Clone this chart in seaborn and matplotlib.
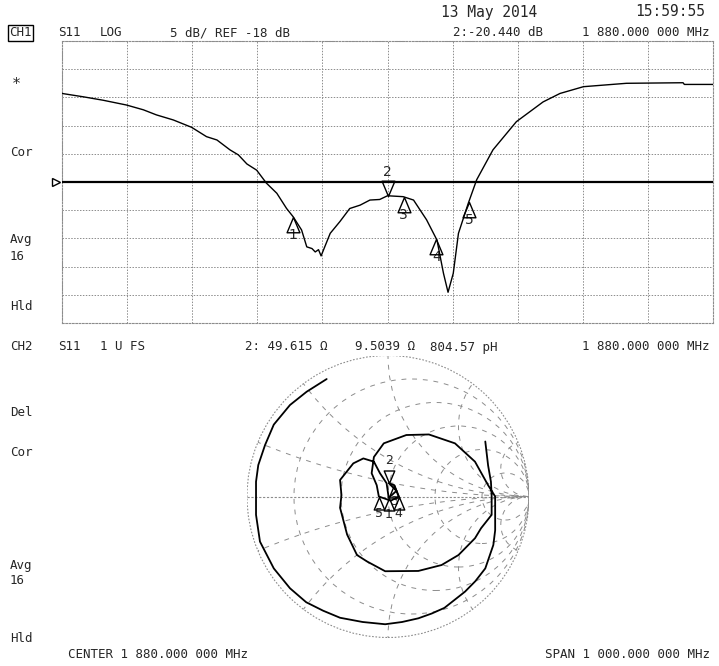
import numpy as np
import pandas as pd
import matplotlib
matplotlib.use("Agg")
import matplotlib.pyplot as plt
from matplotlib.path import Path
from matplotlib.patches import Circle
import seaborn as sns

# CH1: S11 log magnitude (MHz, dB)
freq_mhz = [1380, 1413, 1443, 1479, 1505, 1525, 1551, 1579, 1602, 1618, 1638, 1651,
            1664, 1679, 1694, 1710, 1725, 1735, 1748, 1756, 1764, 1769, 1774, 1778,
            1792, 1807, 1822, 1838, 1853, 1868, 1880, 1904, 1920, 1940, 1956, 1966,
            1973, 1981, 1989, 2004, 2017, 2042, 2078, 2119, 2145, 2181, 2247, 2334,
            2336, 2380]
s11_db = [-2.3, -2.9, -3.5, -4.35, -5.2, -6.1, -7.0, -8.3, -9.96, -10.55, -12.3, -13.2,
          -14.8, -15.9, -18.2, -20.0, -22.7, -24.15, -26.5, -29.5, -29.8, -30.4, -30.0,
          -31.1, -27.1, -25.0, -22.7, -22.1, -21.2, -21.1, -20.44, -20.6, -21.2, -24.7,
          -28.3, -34.2, -37.55, -34.2, -27.1, -21.8, -17.6, -12.3, -7.3, -3.8, -2.3,
          -1.1, -0.5, -0.4, -0.7, -0.7]
marker_ids = [1, 2, 3, 4, 5]
marker_freq = [1735, 1880, 1905, 1955, 2005]
ref_db = -18
db_per_div = 5

# CH2: S11 on the Smith chart (real, imag of reflection coefficient)
smith_re = [0.69, 0.71, 0.73, 0.735, 0.735, 0.66, 0.617, 0.5, 0.38, 0.215, -0.02, -0.15,
            -0.22, -0.29, -0.34, -0.33, -0.34, -0.246, -0.175, -0.1, -0.057, -0.01,
            0.005, 0.06, 0.005, 0.045, 0.075, 0.02, -0.065, -0.08,
            -0.116, -0.1, -0.03, 0.13, 0.29, 0.475, 0.617, 0.71, 0.76, 0.76, 0.747,
            0.69, 0.62, 0.546, 0.40, 0.31, 0.215, 0.1, -0.02, -0.18, -0.34, -0.46, -0.58,
            -0.695, -0.81, -0.908, -0.936, -0.936, -0.92, -0.872, -0.81, -0.695,
            -0.577, -0.435]
smith_im = [0.39, 0.22, 0.105, 0.01, -0.13, -0.225, -0.296, -0.415, -0.486, -0.528, -0.53,
            -0.46, -0.415, -0.27, -0.08, 0.01, 0.117, 0.235, 0.27, 0.247, 0.165, 0.094,
            -0.01, 0.04, 0.095, 0.08, 0.0, -0.03, 0.0, 0.08,
            0.165, 0.28, 0.377, 0.436, 0.44, 0.377, 0.247, 0.08, 0.0, -0.24, -0.344,
            -0.51, -0.6, -0.675, -0.79, -0.83, -0.864, -0.89, -0.906, -0.89, -0.86, -0.81,
            -0.75, -0.651, -0.51, -0.32, -0.13, 0.105, 0.223, 0.365, 0.51, 0.649,
            0.743, 0.833]
smith_marker_idx = [22, 24, 25, 26, 28]
smith_r = [0.2, 0.5, 1, 2, 5]
smith_x = [0.2, 0.5, 1, 2, 5]

W, H = 719, 666
sns.set_style("white")
plt.rcParams['font.family'] = ['DejaVu Sans Mono', 'DejaVu Sans']
fig = plt.figure(figsize=(W / 100, H / 100), dpi=100)


def fx(x):
    return x / W


def fy(y):
    return 1 - y / H


def txt(x, y, s, **kw):
    kw.setdefault('fontsize', 9)
    kw.setdefault('va', 'center')
    fig.text(fx(x), fy(y), s, **kw)


# marker shapes with the tip at the data point
up_tri = Path([(0, 0), (-0.42, -1), (0.42, -1), (0, 0)], [1, 2, 2, 79])
down_tri = Path([(0, 0), (-0.42, 1), (0.42, 1), (0, 0)], [1, 2, 2, 79])
grid_col = '#8c8c8c'


def draw_marker(a, x, y, mid, ms, fs, up_off, down_off):
    if mid == 2:
        a.plot([x], [y], marker=down_tri, ms=ms, mfc='none', mec='black', mew=1.0, zorder=6)
        a.annotate(str(mid), (x, y), xytext=(0, down_off), textcoords='offset points',
                   ha='center', va='center', fontsize=fs, family='DejaVu Sans')
    else:
        a.plot([x], [y], marker=up_tri, ms=ms, mfc='none', mec='black', mew=1.0, zorder=6)
        a.annotate(str(mid), (x, y), xytext=(0, up_off), textcoords='offset points',
                   ha='center', va='center', fontsize=fs, family='DejaVu Sans')


# ---- CH1 log magnitude ----
ax = fig.add_axes([fx(62), fy(323), 651 / W, 282 / H])
f0, f1 = freq_mhz[0], freq_mhz[-1]
top = ref_db + 5 * db_per_div
bot = ref_db - 5 * db_per_div
ax.set_xlim(f0, f1)
ax.set_ylim(bot, top)
ax.set_xticks(np.linspace(f0, f1, 11))
ax.set_yticks(np.linspace(bot, top, 11))
ax.set_xticklabels([])
ax.set_yticklabels([])
ax.tick_params(length=0)
ax.grid(True, color=grid_col, lw=0.7, ls=(0, (1.5, 1.5)))
for sp in ax.spines.values():
    sp.set_color(grid_col)
    sp.set_linestyle((0, (1.5, 1.5)))
    sp.set_linewidth(0.8)
ax.axhline(ref_db, color='black', lw=1.6, zorder=3)
df = pd.DataFrame({'freq': freq_mhz, 'db': s11_db})
sns.lineplot(data=df, x='freq', y='db', color='black', lw=1.0, ax=ax, zorder=4)
ax.set_xlabel('')
ax.set_ylabel('')
ax.plot([f0 - (f1 - f0) * 0.009], [ref_db], marker='>', ms=6, mfc='white', mec='black',
        mew=1, clip_on=False, zorder=5)
for mid, mf in zip(marker_ids, marker_freq):
    md = np.interp(mf, freq_mhz, s11_db)
    draw_marker(ax, mf, md, mid, 22, 10, -13, 17)

# ---- CH2 Smith chart ----
cx, cy, R = 388, 496.5, 141
ax2 = fig.add_axes([fx(cx - R), fy(cy + R), 2 * R / W, 2 * R / H])
ax2.set_xlim(-1, 1)
ax2.set_ylim(-1, 1)
ax2.set_aspect('equal')
ax2.axis('off')
ax2.add_patch(Circle((0, 0), 1, fill=False, ec=grid_col, lw=0.8, ls=(0, (1.5, 1.5))))
clip = Circle((0, 0), 1, transform=ax2.transData)
ax2.plot([-1, 1], [0, 0], color=grid_col, lw=0.8, ls=(0, (2, 1.5)))
for r in smith_r:
    ax2.add_patch(Circle((r / (1 + r), 0), 1 / (1 + r), fill=False, ec=grid_col, lw=0.7,
                         ls=(0, (5, 6))))
for xv in smith_x:
    for sgn in (1, -1):
        c = Circle((1, sgn / xv), 1 / xv, fill=False, ec=grid_col, lw=0.7, ls=(0, (5, 6)))
        ax2.add_patch(c)
        c.set_clip_path(clip)
sns.lineplot(x=smith_re, y=smith_im, sort=False, estimator=None, color='black', lw=1.3,
             ax=ax2, zorder=4)
for mid, k in zip(marker_ids, smith_marker_idx):
    draw_marker(ax2, smith_re[k], smith_im[k], mid, 18, 9, -12, 16)

# ---- screen annotations ----
txt(441, 12, '13 May 2014', fontsize=10.5)
txt(705, 12, '15:59:55', fontsize=10.5, ha='right')
txt(9, 33, 'CH1', bbox=dict(boxstyle='square,pad=0.12', fc='white', ec='black', lw=1))
txt(58, 33, 'S11')
txt(100, 33, 'LOG')
txt(170, 33, '5 dB/ REF -18 dB')
txt(453, 33, '2:-20.440 dB')
txt(710, 33, '1 880.000 000 MHz', ha='right')
txt(12, 85, '*', fontsize=11)
txt(10, 152, 'Cor')
txt(10, 240, 'Avg')
txt(10, 256, '16')
txt(10, 307, 'Hld')
txt(10, 347, 'CH2')
txt(58, 347, 'S11')
txt(100, 347, '1 U FS')
txt(245, 347, '2: 49.615 \u03a9')
txt(355, 347, '9.5039 \u03a9')
txt(430, 347, '804.57 pH')
txt(710, 347, '1 880.000 000 MHz', ha='right')
txt(10, 413, 'Del')
txt(10, 452, 'Cor')
txt(10, 565, 'Avg')
txt(10, 581, '16')
txt(10, 638, 'Hld')
txt(68, 655, 'CENTER 1 880.000 000 MHz')
txt(710, 655, 'SPAN 1 000.000 000 MHz', ha='right')

fig.savefig('out.png', dpi=100, facecolor='white')
